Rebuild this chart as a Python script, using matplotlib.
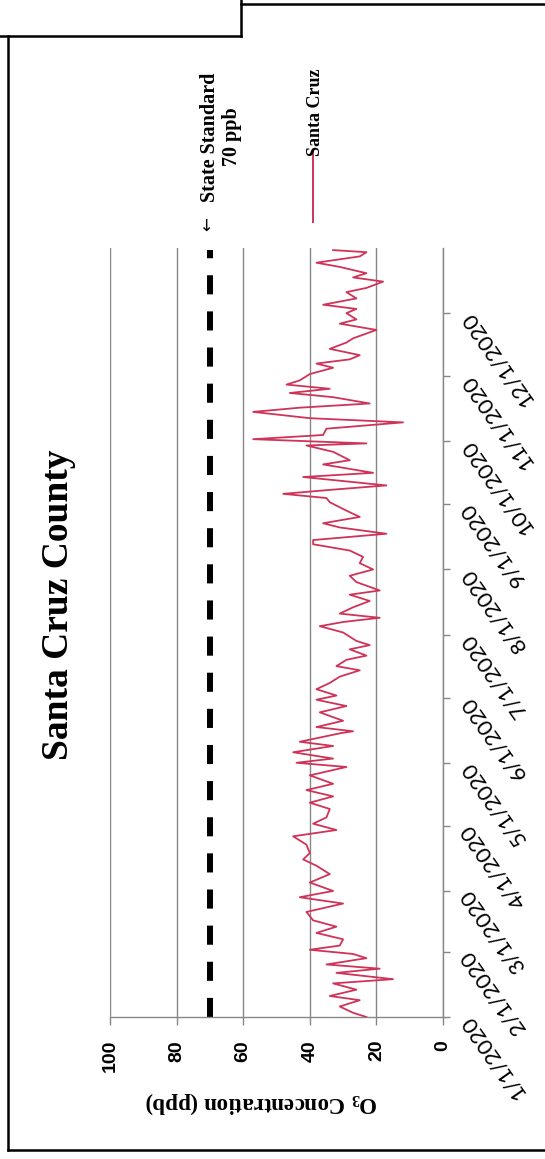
import numpy as np
import pandas as pd
import matplotlib
matplotlib.use('Agg')
import matplotlib.pyplot as plt
import matplotlib.dates as mdates
from matplotlib.lines import Line2D

# daily O3 readings (day of year 2020 -> ppb)
days = [0, 2, 5, 8, 10, 13, 16, 18, 21, 23, 25, 28, 30, 32, 34, 37, 40, 43, 46, 50,
        54, 57, 60, 64, 68, 72, 75, 78, 82, 86, 89, 92, 95, 99, 102, 105, 108, 111, 115, 119,
        121, 123, 126, 129, 131, 135, 136, 138, 141, 145, 148, 151, 153, 156, 159, 162, 165, 167, 170, 172,
        175, 177, 179, 183, 186, 188, 190, 192, 195, 198, 201, 203, 207, 210, 213, 216, 219, 222, 225, 227,
        230, 233, 235, 238, 241, 245, 247, 249, 251, 253, 257, 259, 263, 265, 269, 272, 273, 275, 277, 280,
        283, 285, 288, 290, 292, 295, 297, 299, 301, 303, 306, 309, 311, 313, 315, 318, 321, 323, 327, 330,
        332, 335, 337, 339, 342, 345, 347, 350, 352, 354, 357, 359, 362, 364, 365]
o3_ppb = [23, 27, 31, 25, 34, 26, 33, 15, 32, 19, 35, 23, 27, 40, 31, 30, 38, 32, 39, 41,
          30, 43, 33, 40, 34, 38, 42, 40, 41, 45, 32, 39, 35, 34, 40, 33, 41, 33, 40, 29,
          44, 33, 45, 33, 43, 31, 27, 38, 30, 37, 29, 38, 32, 38, 34, 31, 25, 32, 29, 23,
          28, 22, 26, 30, 37, 30, 19, 31, 27, 22, 28, 19, 26, 28, 21, 25, 24, 28, 39, 39,
          17, 31, 36, 25, 29, 34, 35, 48, 33, 17, 42, 21, 36, 28, 33, 41, 23, 57, 36, 35,
          12, 40, 57, 43, 22, 33, 46, 34, 47, 43, 40, 33, 38, 28, 25, 34, 29, 27, 20, 31,
          26, 29, 26, 36, 26, 29, 23, 18, 27, 23, 31, 38, 25, 23, 33]
state_standard = 70

value_ticks = [0, 20, 40, 60, 80, 100]
month_ticks = pd.date_range('2020-01-01', '2020-12-01', freq='MS')
month_labels = [f'{d.month}/1/2020' for d in month_ticks]

dates = pd.Timestamp('2020-01-01') + pd.to_timedelta(days, unit='D')

plt.rcParams['mathtext.fontset'] = 'custom'
plt.rcParams['mathtext.rm'] = 'Liberation Serif:bold'
plt.rcParams['mathtext.bf'] = 'Liberation Serif:bold'
plt.rcParams['mathtext.it'] = 'Liberation Serif:bold'

W, H = 545, 1159
fig = plt.figure(figsize=(W / 100, H / 100), dpi=100)
ax = fig.add_axes([110 / W, (H - 1017) / H, 333 / W, 769 / H])

grey = '#878787'
red = '#cf3358'

ax.plot(o3_ppb, dates, color=red, lw=1.3, zorder=3)
ax.plot([state_standard, state_standard],
        [pd.Timestamp('2020-01-01'), pd.Timestamp('2020-12-31')],
        color='black', lw=4.3, linestyle=(0, (3.2, 2.85)), dash_capstyle='butt', zorder=2)

ax.set_xlim(100, 0)
ax.set_ylim(pd.Timestamp('2020-01-01'), pd.Timestamp('2021-01-01'))

ax.set_xticks(value_ticks)
ax.set_xticklabels([str(v) for v in value_ticks], rotation=90, fontsize=14,
                   fontweight='bold', family='Liberation Sans')
ax.tick_params(axis='x', direction='out', length=5.5, width=1, color=grey, pad=11)

ax.yaxis.tick_right()
ax.set_yticks(mdates.date2num(month_ticks))
ax.set_yticklabels(month_labels, rotation=125, fontsize=16, family='Lato',
                   ha='right', va='center')
for lab in ax.get_yticklabels():
    lab.set_rotation_mode('anchor')
ax.tick_params(axis='y', direction='out', length=5, width=1, color=grey, pad=11)

ax.grid(axis='x', color=grey, lw=1)
ax.grid(axis='y', visible=False)
ax.spines['top'].set_visible(False)
ax.spines['left'].set_visible(False)
for s in ['bottom', 'right']:
    ax.spines[s].set_color(grey)
    ax.spines[s].set_linewidth(1)


def fx(x):
    return x / W


def fy(y):
    return 1 - y / H


serif = 'Liberation Serif'
fig.text(fx(59), fy(605), 'Santa Cruz County', rotation=90, fontsize=27,
         fontweight='bold', family=serif, ha='center', va='center')
fig.text(fx(261), fy(1103), 'O$_3$ Concentration (ppb)', rotation=180, fontsize=16.5,
         fontweight='bold', family=serif, ha='center', va='center')

# legend labels
fig.text(fx(215), fy(137), 'State Standard', rotation=90, fontsize=14.5, fontweight='bold',
         family=serif, ha='center', va='baseline', rotation_mode='anchor')
fig.text(fx(237), fy(137), '70 ppb', rotation=90, fontsize=14.5, fontweight='bold',
         family=serif, ha='center', va='baseline', rotation_mode='anchor')
fig.text(fx(208), fy(224), '\u2190', rotation=90, fontsize=12, family='DejaVu Sans',
         ha='center', va='center')
fig.text(fx(320), fy(112), 'Santa Cruz', rotation=90, fontsize=13, fontweight='bold',
         family=serif, ha='center', va='baseline', rotation_mode='anchor')
fig.add_artist(Line2D([fx(313), fx(313)], [fy(150), fy(222)], color=red, lw=1.4))

# page frame around the chart
frame = [((0, 36), (241, 36)), ((241, 0), (241, 36)), ((241, 4), (545, 4)),
         ((8, 36), (8, 1150)), ((8, 1150), (545, 1150))]
for (x0, y0), (x1, y1) in frame:
    fig.add_artist(Line2D([fx(x0), fx(x1)], [fy(y0), fy(y1)], color='black', lw=1.8))

fig.savefig('out.png', dpi=100)
